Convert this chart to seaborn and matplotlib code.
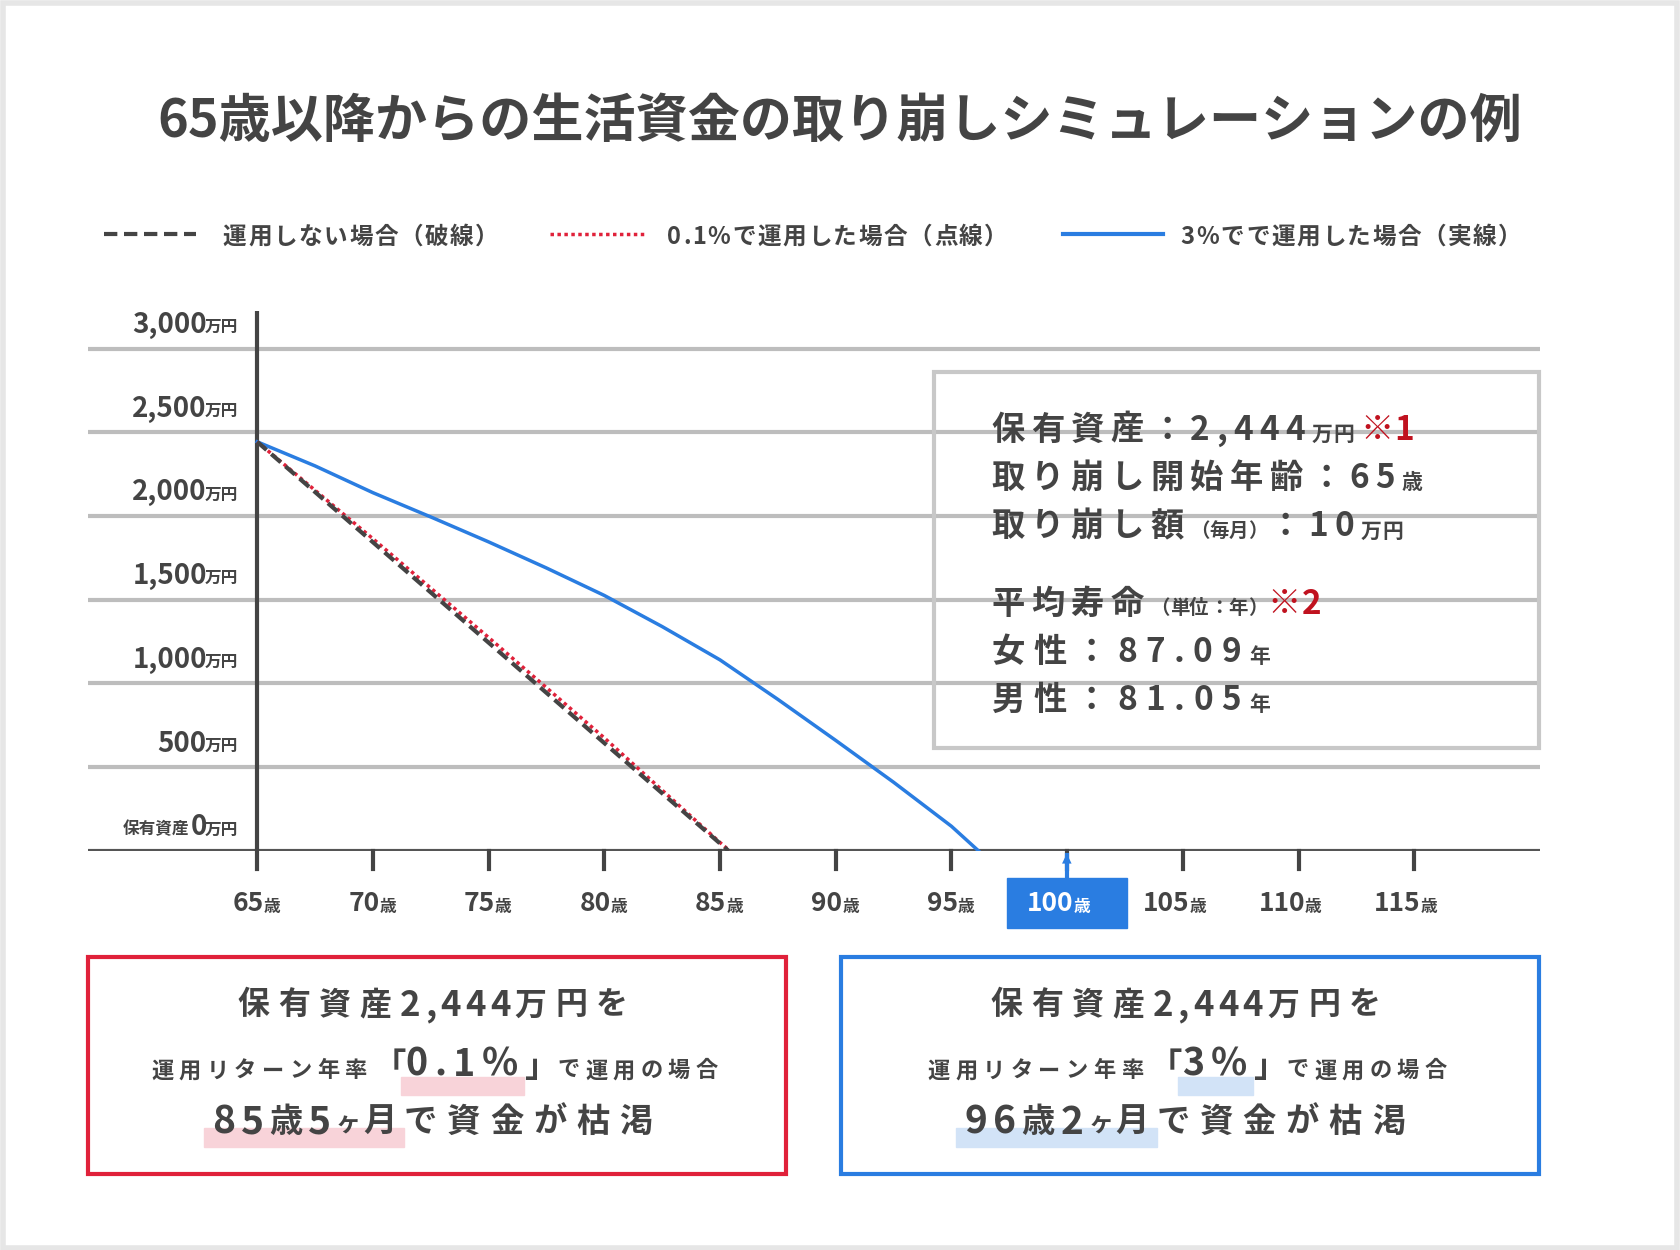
import matplotlib
matplotlib.use("Agg")
import matplotlib.pyplot as plt
import seaborn as sns
import pandas as pd
from matplotlib.patches import Rectangle
from matplotlib.lines import Line2D

# ---- data ----
age_none = [65, 85.37]
val_none = [2444, 0]
age_low = [65, 70, 75, 80, 85, 85.42]
val_low = [2444, 1865, 1275, 675, 50, 0]
age_3 = [65, 67.5, 70, 72.5, 75, 77.5, 80, 82.5, 85, 87.5, 90, 92.5, 95, 96.17]
val_3 = [2444, 2300, 2140, 1995, 1846, 1690, 1526, 1340, 1141, 905, 660, 410, 147, 0]
xticks = [65, 70, 75, 80, 85, 90, 95, 100, 105, 110, 115]
yticks = [0, 500, 1000, 1500, 2000, 2500, 3000]
ylabels = ["0", "500", "1,000", "1,500", "2,000", "2,500", "3,000"]

FONT = "Noto Sans CJK JP"
plt.rcParams["font.family"] = FONT
W, H = 1568, 1165
fig = plt.figure(figsize=(16.8, 12.5), dpi=100)
fig.patch.set_facecolor("white")
fig.add_artist(Rectangle((0.002, 0.002), 0.996, 0.996, transform=fig.transFigure,
                         fill=False, ec="#e6e6e6", lw=4))
renderer = fig.canvas.get_renderer()
DARK = "#444444"
RED = "#e0213a"
BLUE = "#2a7de1"
SC = W / 1680.0

def fx(x): return x / W
def fy(y): return 1 - y / H
def T(x, y, s, size, weight="bold", color=DARK, ha="left", va="center", **kw):
    return fig.text(fx(x), fy(y), s, fontsize=size, fontweight=weight, color=color, ha=ha, va=va, **kw)

def width(s, size, weight="bold"):
    t = fig.text(0, 0, s, fontsize=size, fontweight=weight)
    w = t.get_window_extent(renderer).width * SC
    t.remove()
    return w

def chain(x, y, segs, ha="left"):
    # segs: (text, size, color, spacing, dy)
    total = 0
    for s, size, col, sp, dy in segs:
        for ch in s:
            total += width(ch, size) + sp
    if ha == "center":
        x = x - total / 2
    for s, size, col, sp, dy in segs:
        for ch in s:
            T(x, y + dy, ch, size, color=col)
            x += width(ch, size) + sp
    return x

# title
T(784, 113, "65歳以降からの生活資金の取り崩しシミュレーションの例", 37.5, ha="center")

# legend
def leg(x0, x1, y, **kw):
    fig.add_artist(Line2D([fx(x0), fx(x1)], [fy(y), fy(y)], transform=fig.transFigure, **kw))
leg(97, 183, 218, color=DARK, lw=3, ls=(0, (3.2, 1.6)))
chain(208, 221, [("運用しない場合（破線）", 17, DARK, 1.5, 0)])
leg(513, 602, 218, color=RED, lw=2.5, ls=(0, (1, 1)))
chain(623, 221, [("0.1%で運用した場合（点線）", 17, DARK, 1.5, 0)])
leg(992, 1085, 218, color=BLUE, lw=3)
chain(1102, 221, [("3%でで運用した場合（実線）", 17, DARK, 1.5, 0)])

# axes
ax = fig.add_axes([fx(82), fy(793), fx(1437) - fx(82), (793 - 290) / H])
ax.set_xlim(65 - 158 / 108 * 5, 65 + 1197 / 108 * 5)
ax.set_ylim(0, (793 - 290) / 78 * 500)
for s in ax.spines.values():
    s.set_visible(False)
ax.set_xticks([]); ax.set_yticks([])
for yv in yticks[1:]:
    ax.axhline(yv, color="#bdbdbd", lw=3, zorder=1)
ax.axhline(0, color="#555555", lw=3, zorder=3)
ax.axvline(65, color="#444444", lw=3, zorder=3)

df = pd.concat([
    pd.DataFrame({"age": age_none, "val": val_none, "s": "none"}),
    pd.DataFrame({"age": age_low, "val": val_low, "s": "low"}),
    pd.DataFrame({"age": age_3, "val": val_3, "s": "three"}),
])
sns.lineplot(data=df[df.s == "three"], x="age", y="val", color=BLUE, lw=2.5, ax=ax, zorder=4)
sns.lineplot(data=df[df.s == "low"], x="age", y="val", color=RED, lw=2.5, ls=(0, (1, 1)), ax=ax, zorder=5)
sns.lineplot(data=df[df.s == "none"], x="age", y="val", color="#444444", lw=3, ls=(0, (3, 1.5)), ax=ax, zorder=6)
ax.set_xlabel(""); ax.set_ylabel("")

# y labels
for yv, lab in zip(yticks, ylabels):
    py = 793 - yv / 500 * 78 - 22
    if yv == 0:
        T(177, py + 2, "保有資産", 12, ha="right")
        T(193, py, "0", 20, ha="right")
    else:
        T(193, py, lab, 20, ha="right")
    T(222, py + 2, "万円", 12, ha="right")

# x ticks / labels
for xv in xticks:
    px = 240 + (xv - 65) / 5 * 108
    fig.add_artist(Line2D([fx(px), fx(px)], [fy(793), fy(810)], transform=fig.transFigure, color="#444", lw=3))
    col = DARK
    if xv == 100:
        fig.add_artist(Rectangle((fx(940), fy(865)), fx(1052) - fx(940), (865 - 818) / H,
                                 transform=fig.transFigure, color=BLUE))
        fig.add_artist(Line2D([fx(px), fx(px)], [fy(797), fy(816)], transform=fig.transFigure, color=BLUE, lw=3))
        fig.text(fx(px), fy(800), "▲", color=BLUE, fontsize=9, ha="center", va="center", family="DejaVu Sans")
        col = "white"
    T(px + 6, 842, str(xv), 19, ha="right", color=col)
    T(px + 6, 845, "歳", 12, color=col)

# info box
fig.add_artist(Rectangle((fx(872), fy(697)), fx(1436) - fx(872), (697 - 347) / H,
                         transform=fig.transFigure, fill=False, ec="#c8c8c8", lw=3))
sz, sp = 24, 6
DR = "#c0121f"
chain(925, 401, [("保有資産：2,444", sz, DARK, sp, 0), ("万円", 15, DARK, 1, 4), (" ", 15, DARK, 0, 0), ("※1", sz, DR, 1, 0)])
chain(925, 446, [("取り崩し開始年齢：65", sz, DARK, sp, 0), ("歳", 15, DARK, 0, 4)])
chain(925, 491, [("取り崩し額", sz, DARK, sp, 0), ("（毎月）", 14, DARK, 0, 4), ("：10", sz, DARK, sp, 0), ("万円", 15, DARK, 1, 4)])
chain(925, 563, [("平均寿命", sz, DARK, sp, 0), ("（単位：年）", 14, DARK, 0, 4), ("※2", sz, DR, 1, 0)])
chain(925, 608, [("女性：87.09", sz, DARK, sp + 2, 0), ("年", 15, DARK, 0, 4)])
chain(925, 653, [("男性：81.05", sz, DARK, sp + 2, 0), ("年", 15, DARK, 0, 4)])

# bottom boxes
def hl(x0, x1, y0, y1, c):
    fig.add_artist(Rectangle((fx(x0), fy(y1)), fx(x1) - fx(x0), (y1 - y0) / H,
                             transform=fig.transFigure, color=c, zorder=0))

for (bx0, bx1, ec, hc, pct, a1, a2) in [
        (82, 734, RED, "#f8d3d9", "0.1%", "85", "5"),
        (785, 1436, BLUE, "#d2e3f7", "3%", "96", "2")]:
    fig.add_artist(Rectangle((fx(bx0), fy(1094)), fx(bx1) - fx(bx0), (1094 - 892) / H,
                             transform=fig.transFigure, fill=False, ec=ec, lw=3))
    cx = (bx0 + bx1) / 2
    chain(cx, 937, [("保有資産", 23, DARK, 8, 0), ("2,444", 25, DARK, 4, 0), ("万円を", 23, DARK, 8, 0)], ha="center")
    # line 2: compute positions for highlight
    segs2 = [("運用リターン年率", 16, DARK, 5, 3), ("「", 24, DARK, 0, 0), (pct, 27, DARK, 6, -3),
             ("」", 24, DARK, 0, 0), ("で運用の場合", 16, DARK, 5, 3)]
    tot = sum(width(ch, s) + p for t, s, c, p, d in segs2 for ch in t)
    x0 = cx - tot / 2
    hx0 = x0 + sum(width(ch, s) + p for t, s, c, p, d in segs2[:2] for ch in t)
    hx1 = hx0 + sum(width(ch, segs2[2][1]) + segs2[2][3] for ch in pct)
    hl(hx0 - 4, hx1, 1004, 1021, hc)
    chain(cx, 995, segs2, ha="center")
    segs3 = [(a1, 28, DARK, 5, 0), ("歳", 24, DARK, 5, 0), (a2, 28, DARK, 5, 0), ("ヶ", 18, DARK, 2, 2),
             ("月", 24, DARK, 7, 0), ("で資金が枯渇", 24, DARK, 9, 0)]
    tot3 = sum(width(ch, s) + p for t, s, c, p, d in segs3 for ch in t)
    x3 = cx - tot3 / 2
    hx3 = x3 + sum(width(ch, s) + p for t, s, c, p, d in segs3[:5] for ch in t)
    hl(x3 - 8, hx3, 1051, 1069, hc)
    chain(cx, 1046, segs3, ha="center")

fig.savefig("out.png", dpi=100)
